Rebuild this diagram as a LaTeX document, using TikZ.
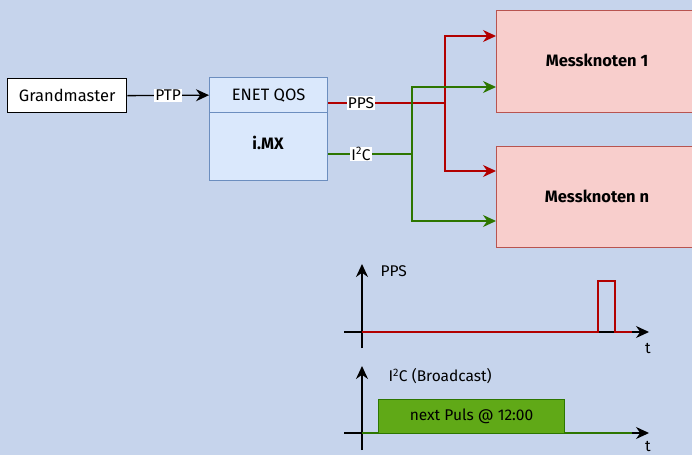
\documentclass[tikz,border=0pt]{standalone}
\usepackage{fontspec}
\setmainfont{Fira Sans}
\usetikzlibrary{arrows.meta}
\definecolor{bg}{HTML}{C6D4EC}
\definecolor{bluefill}{HTML}{DAE8FC}
\definecolor{blueline}{HTML}{6C8EBF}
\definecolor{redfill}{HTML}{F8CECC}
\definecolor{redline}{HTML}{B85450}
\definecolor{sigred}{HTML}{B20000}
\definecolor{siggreen}{HTML}{2D7600}
\definecolor{greenfill}{HTML}{60A917}
\tikzset{
  fnt/.style={font=\fontsize{16.5}{19}\selectfont},
  bfnt/.style={font=\fontsize{16.5}{19}\selectfont\bfseries},
  sfnt/.style={font=\fontsize{15.5}{18}\selectfont},
  bluebox/.style={draw=blueline, fill=bluefill, line width=1.3pt, inner sep=0pt},
  redbox/.style={draw=redline, fill=redfill, line width=1.3pt, inner sep=0pt},
  lbl/.style={fill=white, inner sep=1pt, sfnt},
  tip/.style={-{Stealth[length=13pt,width=12pt]}},
  axis/.style={line width=1.3pt, -{Stealth[length=13pt,width=12pt]}},
}
\begin{document}
\begin{tikzpicture}[x=1pt,y=-1pt]
\useasboundingbox (0,0) rectangle (692,455);
\fill[bg] (0,0) rectangle (692,455);
\begin{scope}
\clip (0,0) rectangle (692,455);
% Messknoten
\node[redbox, minimum width=202pt, minimum height=102pt, anchor=north west] (m1) at (496,10) {};
\node[bfnt] (m1t) at (597,60) {Messknoten 1};
\node[redbox, minimum width=202pt, minimum height=101pt, anchor=north west] (mn) at (496,146) {};
\node[bfnt] (mnt) at (597,196) {Messknoten n};
\end{scope}
% Grandmaster
\node[draw=black, fill=white, line width=1.3pt, minimum width=119pt, minimum height=34pt, anchor=north west, inner sep=0pt, fnt] (gm) at (7,78) {Grandmaster};
% ENET / i.MX
\node[bluebox, minimum width=118pt, minimum height=35pt, anchor=north west, fnt] (enet) at (209,77) {ENET QOS};
\node[bluebox, minimum width=118pt, minimum height=68pt, anchor=north west] (imx) at (209,112) {};
\node[bfnt] (imxt) at (268,143) {i.MX};
% PTP
\draw[line width=1.3pt, tip] (gm.east) -- node[lbl] (ptp) {PTP} (enet.west);
% junction coordinates
\coordinate (jr) at (445,103);
\coordinate (jg) at (412,154);
\coordinate (ppsstart) at (328,103);
\coordinate (i2cstart) at (328,154);
% PPS red
\draw[sigred, line width=1.3pt] (ppsstart) -- (jr);
\draw[sigred, line width=1.3pt, tip] (jr) |- (m1.west |- 0,36);
\draw[sigred, line width=1.3pt, tip] (jr) |- (mn.west |- 0,171);
% I2C green
\draw[siggreen, line width=1.3pt] (i2cstart) -- (jg);
\draw[siggreen, line width=1.3pt, tip] (jg) |- (m1.west |- 0,87);
\draw[siggreen, line width=1.3pt, tip] (jg) |- (mn.west |- 0,221);
\node[lbl] (ppsl) at (361,103) {PPS};
\node[lbl] (i2cl) at (361,154) {I\textsuperscript{2}C};
% Timing PPS
\coordinate (a1o) at (362,332);
\coordinate (a1y0) at (362,348);
\coordinate (a1y1) at (362,264);
\coordinate (a1x0) at (344,332);
\coordinate (a1x1) at (649,332);
\draw[axis] (a1y0) -- (a1y1);
\draw[axis] (a1x0) -- (a1x1);
\draw[sigred, line width=1.3pt] (a1o) -- (598,332) -- (598,281) -- (615,281) -- (615,332) -- (632,332);
\node[anchor=west, sfnt] (ppsax) at (377,271) {PPS};
\node[sfnt] (t1) at (648,348) {t};
% Timing I2C
\coordinate (a2o) at (362,433);
\coordinate (a2y0) at (362,450);
\coordinate (a2y1) at (362,366);
\coordinate (a2x0) at (344,433);
\coordinate (a2x1) at (649,433);
\draw[axis] (a2y0) -- (a2y1);
\draw[axis] (a2x0) -- (a2x1);
\draw[siggreen, line width=1.3pt] (a2o) -- (632,433);
\node[draw=siggreen, fill=greenfill, line width=1pt, minimum width=186pt, minimum height=34pt, anchor=north west, inner sep=0pt, sfnt] (np) at (378,399) {next Puls @ 12:00};
\node[anchor=west, sfnt] (i2cax) at (385,376) {I\textsuperscript{2}C (Broadcast)};
\node[sfnt] (t2) at (648,446) {t};
\end{tikzpicture}
\end{document}
